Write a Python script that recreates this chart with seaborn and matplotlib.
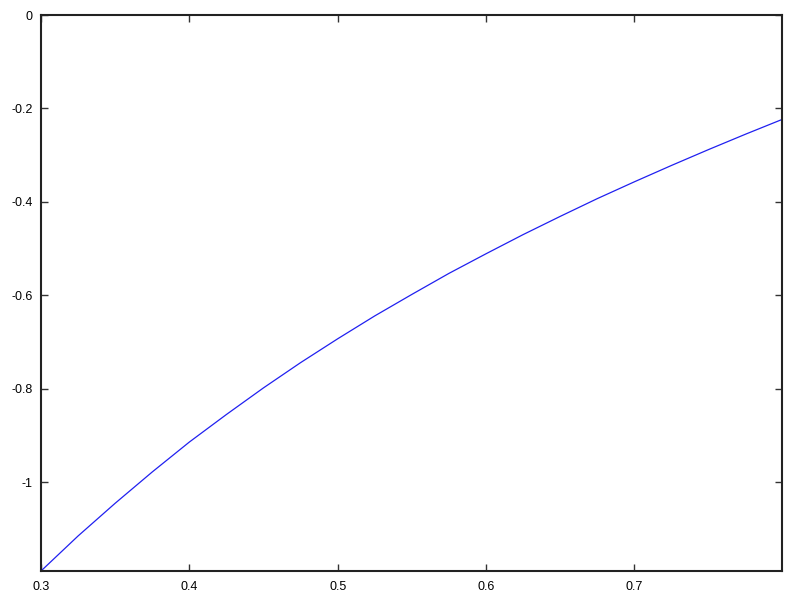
import matplotlib
matplotlib.use("Agg")
import matplotlib.pyplot as plt
import seaborn as sns
import pandas as pd

x_vals = [0.300, 0.325, 0.350, 0.375, 0.400, 0.425, 0.450, 0.475, 0.500, 0.525, 0.550,
          0.575, 0.600, 0.625, 0.650, 0.675, 0.700, 0.725, 0.750, 0.775, 0.800]
y_vals = [-1.190, -1.115, -1.045, -0.978, -0.914, -0.855, -0.798, -0.744, -0.693, -0.644, -0.598,
          -0.553, -0.511, -0.470, -0.431, -0.393, -0.357, -0.322, -0.288, -0.255, -0.223]
x_ticks = [0.3, 0.4, 0.5, 0.6, 0.7]
x_tick_labels = ["0.3", "0.4", "0.5", "0.6", "0.7"]
y_ticks = [0, -0.2, -0.4, -0.6, -0.8, -1]
y_tick_labels = ["0", "-0.2", "-0.4", "-0.6", "-0.8", "-1"]

sns.set_style("white")
plt.rcParams['font.family'] = ['Liberation Sans', 'DejaVu Sans']

df = pd.DataFrame({"x": x_vals, "y": y_vals})
fig = plt.figure(figsize=(8, 6), dpi=100)
ax = fig.add_axes([41/800, 29/600, 741/800, 556/600])
sns.lineplot(data=df, x="x", y="y", ax=ax, color="#2020f0", linewidth=0.9,
             estimator=None, sort=True)
ax.set_xlim(0.3, 0.7995)
ax.set_ylim(-1.19, 0)
ax.set_xticks(x_ticks)
ax.set_xticklabels(x_tick_labels)
ax.set_yticks(y_ticks)
ax.set_yticklabels(y_tick_labels)
ax.set_xlabel("")
ax.set_ylabel("")
ax.tick_params(direction="in", length=5, width=1, colors="#333333", labelcolor="black",
               labelsize=9, top=True, right=True, bottom=True, left=True)
ax.tick_params(axis="x", pad=7)
ax.tick_params(axis="y", pad=6)
for s in ax.spines.values():
    s.set_visible(True)
    s.set_color("#222222")
    s.set_linewidth(1.5)
fig.savefig("out.png", dpi=100)
